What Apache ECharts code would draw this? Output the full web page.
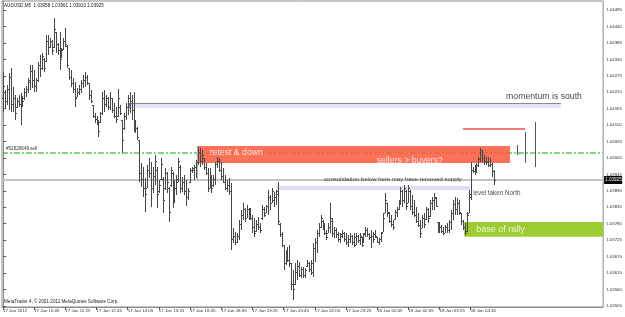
<!DOCTYPE html>
<html><head><meta charset="utf-8">
<script src="https://cdn.jsdelivr.net/npm/echarts@6/dist/echarts.min.js"></script>
<style>html,body{margin:0;padding:0;background:#fff}#c{width:625px;height:317px}</style>
</head><body><div id="c"></div>
<script>
// ---- data (AUDUSD M5, bar index 0 = 17 Jan 08:45) ----
const opens = [
1.04200,1.04220,1.04190,1.04230,1.04270,1.04180,1.04200,1.04170,1.04190,1.04180,
1.04200,1.04200,1.04220,1.04230,1.04255,1.04290,1.04260,1.04240,1.04260,1.04310,
1.04300,1.04330,1.04325,1.04390,1.04370,1.04390,1.04370,1.04420,1.04380,1.04360,
1.04340,1.04365,1.04390,1.04375,1.04300,1.04270,1.04250,1.04230,1.04205,1.04220,
1.04230,1.04250,1.04260,1.04270,1.04250,1.04210,1.04177,1.04140,1.04130,1.04120,
1.04120,1.04150,1.04200,1.04180,1.04200,1.04170,1.04200,1.04160,1.04140,1.04140,
1.04170,1.04127,1.04100,1.04140,1.04170,1.04200,1.04190,1.04160,1.04110,1.04100,
1.04060,1.03950,1.03930,1.03900,1.03900,1.03960,1.03950,1.03900,1.03940,1.03960,
1.03890,1.03930,1.03930,1.03900,1.03950,1.03900,1.03910,1.03950,1.03880,1.03900,
1.03930,1.03970,1.03900,1.03920,1.03890,1.03870,1.03920,1.03960,1.03960,1.03970,
1.03985,1.04020,1.03990,1.04000,1.03970,1.03950,1.03900,1.03940,1.03910,1.03930,
1.03980,1.03990,1.03960,1.03940,1.03920,1.03900,1.03910,1.03890,1.03730,1.03740,
1.03720,1.03740,1.03780,1.03810,1.03830,1.03800,1.03830,1.03810,1.03800,1.03770,
1.03755,1.03780,1.03770,1.03800,1.03830,1.03816,1.03840,1.03870,1.03850,1.03860,
1.03870,1.03890,1.03780,1.03745,1.03709,1.03650,1.03680,1.03660,1.03649,1.03580,
1.03580,1.03620,1.03640,1.03610,1.03630,1.03610,1.03640,1.03650,1.03630,1.03620,
1.03700,1.03720,1.03750,1.03770,1.03790,1.03770,1.03750,1.03750,1.03770,1.03790,
1.03750,1.03760,1.03745,1.03730,1.03745,1.03750,1.03730,1.03720,1.03730,1.03740,
1.03720,1.03710,1.03740,1.03725,1.03736,1.03716,1.03750,1.03760,1.03745,1.03735,
1.03740,1.03745,1.03736,1.03720,1.03730,1.03753,1.03816,1.03849,1.03815,1.03790,
1.03780,1.03795,1.03820,1.03830,1.03850,1.03890,1.03860,1.03890,1.03850,1.03890,
1.03840,1.03820,1.03810,1.03790,1.03775,1.03766,1.03800,1.03795,1.03830,1.03805,
1.03850,1.03860,1.03865,1.03786,1.03760,1.03770,1.03755,1.03750,1.03770,1.03760,
1.03785,1.03815,1.03845,1.03830,1.03850,1.03816,1.03790,1.03770,1.03755,1.03816,
1.03870,1.03960,1.03955,1.03970,1.03975,1.03995,1.04025,1.04000,1.03990,1.03985,
1.03975,1.03980,1.03958];
const highs = [
1.04288,1.04227,1.04244,1.04284,1.04301,1.04237,1.04211,1.04201,1.04211,1.04217,
1.04207,1.04234,1.04241,1.04268,1.04311,1.04311,1.04294,1.04268,1.04321,1.04344,
1.04351,1.04334,1.04411,1.04411,1.04401,1.04395,1.04468,1.04421,1.04385,1.04421,
1.04368,1.04401,1.04435,1.04378,1.04301,1.04294,1.04268,1.04254,1.04234,1.04244,
1.04261,1.04278,1.04288,1.04278,1.04251,1.04227,1.04177,1.04150,1.04140,1.04127,
1.04154,1.04221,1.04227,1.04211,1.04204,1.04221,1.04201,1.04184,1.04171,1.04231,
1.04177,1.04127,1.04150,1.04184,1.04211,1.04221,1.04211,1.04221,1.04127,1.04104,
1.04060,1.03983,1.03970,1.03933,1.03977,1.04000,1.03987,1.03970,1.04010,1.03970,
1.03926,1.04000,1.03936,1.03967,1.03953,1.03903,1.03970,1.03953,1.03926,1.03943,
1.04000,1.03977,1.03936,1.03943,1.03926,1.03900,1.03967,1.03970,1.03977,1.03993,
1.04037,1.04033,1.04027,1.04000,1.03983,1.03967,1.03967,1.03943,1.03943,1.03987,
1.04003,1.04000,1.03987,1.03967,1.03943,1.03926,1.03933,1.03916,1.03766,1.03753,
1.03749,1.03793,1.03826,1.03849,1.03833,1.03843,1.03833,1.03833,1.03809,1.03799,
1.03793,1.03803,1.03783,1.03843,1.03836,1.03843,1.03893,1.03876,1.03900,1.03886,
1.03893,1.03920,1.03783,1.03753,1.03709,1.03692,1.03702,1.03709,1.03649,1.03625,
1.03649,1.03659,1.03652,1.03635,1.03635,1.03632,1.03659,1.03652,1.03659,1.03716,
1.03733,1.03759,1.03783,1.03809,1.03793,1.03783,1.03759,1.03783,1.03849,1.03799,
1.03769,1.03766,1.03753,1.03749,1.03759,1.03753,1.03749,1.03742,1.03749,1.03742,
1.03749,1.03749,1.03742,1.03749,1.03736,1.03749,1.03769,1.03766,1.03749,1.03759,
1.03753,1.03759,1.03736,1.03733,1.03753,1.03816,1.03883,1.03849,1.03819,1.03809,
1.03793,1.03826,1.03836,1.03859,1.03903,1.03893,1.03910,1.03893,1.03910,1.03893,
1.03876,1.03859,1.03836,1.03816,1.03793,1.03809,1.03816,1.03836,1.03833,1.03859,
1.03870,1.03883,1.03870,1.03786,1.03786,1.03776,1.03769,1.03776,1.03783,1.03793,
1.03826,1.03859,1.03870,1.03866,1.03859,1.03816,1.03793,1.03783,1.03819,1.03893,
1.03987,1.03970,1.03977,1.03983,1.04003,1.04033,1.04027,1.04010,1.04003,1.04003,
1.04000,1.03983,1.03961];
const lows = [
1.04154,1.04167,1.04177,1.04161,1.04154,1.04154,1.04127,1.04167,1.04171,1.04110,
1.04171,1.04194,1.04204,1.04217,1.04227,1.04234,1.04221,1.04221,1.04254,1.04271,
1.04294,1.04288,1.04321,1.04344,1.04368,1.04344,1.04368,1.04351,1.04344,1.04294,
1.04334,1.04361,1.04371,1.04301,1.04261,1.04237,1.04217,1.04171,1.04204,1.04211,
1.04217,1.04234,1.04237,1.04244,1.04194,1.04184,1.04134,1.04117,1.04110,1.04070,
1.04117,1.04144,1.04154,1.04171,1.04161,1.04161,1.04150,1.04134,1.04117,1.04137,
1.04144,1.04017,1.04094,1.04127,1.04144,1.04150,1.04127,1.04087,1.04084,1.04060,
1.03920,1.03903,1.03870,1.03819,1.03900,1.03933,1.03836,1.03883,1.03910,1.03833,
1.03883,1.03926,1.03816,1.03893,1.03883,1.03786,1.03903,1.03833,1.03849,1.03876,
1.03920,1.03883,1.03886,1.03876,1.03839,1.03859,1.03916,1.03950,1.03926,1.03933,
1.03977,1.03970,1.03977,1.03960,1.03943,1.03886,1.03900,1.03883,1.03903,1.03910,
1.03967,1.03953,1.03926,1.03916,1.03893,1.03886,1.03876,1.03692,1.03716,1.03709,
1.03716,1.03726,1.03759,1.03793,1.03786,1.03799,1.03793,1.03793,1.03749,1.03736,
1.03753,1.03759,1.03749,1.03793,1.03803,1.03816,1.03809,1.03826,1.03849,1.03836,
1.03843,1.03776,1.03736,1.03702,1.03625,1.03642,1.03652,1.03635,1.03559,1.03525,
1.03575,1.03592,1.03602,1.03599,1.03599,1.03599,1.03635,1.03619,1.03609,1.03602,
1.03652,1.03682,1.03736,1.03766,1.03759,1.03742,1.03726,1.03749,1.03749,1.03736,
1.03733,1.03733,1.03719,1.03716,1.03733,1.03719,1.03709,1.03702,1.03716,1.03709,
1.03702,1.03709,1.03716,1.03709,1.03702,1.03716,1.03736,1.03736,1.03726,1.03699,
1.03716,1.03733,1.03716,1.03709,1.03719,1.03753,1.03816,1.03803,1.03783,1.03769,
1.03759,1.03793,1.03803,1.03826,1.03843,1.03836,1.03849,1.03826,1.03849,1.03826,
1.03809,1.03803,1.03783,1.03769,1.03733,1.03766,1.03766,1.03793,1.03783,1.03803,
1.03826,1.03826,1.03836,1.03749,1.03749,1.03749,1.03742,1.03749,1.03749,1.03749,
1.03759,1.03793,1.03809,1.03809,1.03809,1.03776,1.03759,1.03742,1.03753,1.03816,
1.03859,1.03950,1.03943,1.03950,1.03970,1.03987,1.03987,1.03977,1.03977,1.03970,
1.03970,1.03936,1.03910];
const closes = [
1.04240,1.04190,1.04230,1.04270,1.04180,1.04200,1.04150,1.04190,1.04180,1.04200,
1.04190,1.04220,1.04230,1.04260,1.04290,1.04260,1.04240,1.04260,1.04310,1.04300,
1.04340,1.04300,1.04390,1.04370,1.04390,1.04360,1.04430,1.04380,1.04360,1.04330,
1.04360,1.04390,1.04380,1.04310,1.04270,1.04250,1.04230,1.04200,1.04220,1.04230,
1.04250,1.04260,1.04270,1.04250,1.04210,1.04190,1.04140,1.04130,1.04120,1.04090,
1.04150,1.04200,1.04180,1.04200,1.04170,1.04200,1.04160,1.04140,1.04130,1.04200,
1.04150,1.04060,1.04140,1.04170,1.04200,1.04190,1.04160,1.04110,1.04100,1.04070,
1.03950,1.03930,1.03900,1.03880,1.03960,1.03950,1.03900,1.03940,1.03990,1.03880,
1.03910,1.03980,1.03860,1.03950,1.03920,1.03820,1.03960,1.03880,1.03900,1.03920,
1.03990,1.03900,1.03920,1.03890,1.03870,1.03890,1.03960,1.03965,1.03970,1.03985,
1.04020,1.03990,1.04010,1.03970,1.03950,1.03900,1.03940,1.03900,1.03930,1.03980,
1.03990,1.03960,1.03940,1.03920,1.03900,1.03910,1.03890,1.03730,1.03740,1.03720,
1.03740,1.03780,1.03810,1.03830,1.03800,1.03830,1.03810,1.03800,1.03770,1.03750,
1.03780,1.03770,1.03760,1.03830,1.03810,1.03840,1.03870,1.03850,1.03890,1.03870,
1.03880,1.03790,1.03745,1.03710,1.03650,1.03680,1.03660,1.03650,1.03580,1.03560,
1.03620,1.03640,1.03610,1.03630,1.03610,1.03625,1.03650,1.03630,1.03650,1.03700,
1.03720,1.03750,1.03770,1.03800,1.03770,1.03750,1.03735,1.03770,1.03800,1.03750,
1.03760,1.03745,1.03730,1.03740,1.03750,1.03730,1.03720,1.03730,1.03740,1.03720,
1.03735,1.03740,1.03725,1.03740,1.03710,1.03745,1.03760,1.03745,1.03735,1.03740,
1.03730,1.03740,1.03720,1.03730,1.03750,1.03800,1.03860,1.03820,1.03790,1.03780,
1.03770,1.03820,1.03830,1.03850,1.03890,1.03860,1.03900,1.03840,1.03900,1.03840,
1.03820,1.03810,1.03790,1.03775,1.03750,1.03800,1.03780,1.03830,1.03800,1.03850,
1.03860,1.03870,1.03840,1.03760,1.03770,1.03755,1.03750,1.03770,1.03760,1.03785,
1.03815,1.03845,1.03830,1.03850,1.03820,1.03790,1.03770,1.03750,1.03810,1.03880,
1.03960,1.03955,1.03970,1.03975,1.03995,1.04025,1.04000,1.03990,1.03985,1.03975,
1.03980,1.03958,1.03925];

const timeTickIdx = [0,16,32,48,64,80,96,112,128,144,160,176,192,208,224,240];
const timeTickLabels = ['17 Jan 2012','17 Jan 10:05','17 Jan 11:25','17 Jan 12:45','17 Jan 14:05',
  '17 Jan 15:25','17 Jan 16:45','17 Jan 18:05','17 Jan 19:25','17 Jan 20:45','17 Jan 22:05',
  '17 Jan 23:25','18 Jan 00:45','18 Jan 02:05','18 Jan 03:25','18 Jan 04:45'];
const priceTicks = [1.03505,1.03560,1.03615,1.03670,1.03725,1.03780,1.03835,1.03890,1.03945,1.04000,
  1.04055,1.04110,1.04165,1.04220,1.04275,1.04330,1.04385,1.04440,1.04495];

const headerText = 'AUDUSD,M5  1.03958 1.03961 1.03910 1.03925';
const footerText = 'MetaTrader 4, \u00a9 2001-2011 MetaQuotes Software Corp.';
const bidPrice = 1.03925;
const orderPrice = 1.04017;
const orderLabel = '#52620649 sell';

// zones: [startIdx, endIdx, upperPrice, lowerPrice]
const topZone = [64.8, 286.2, 1.04184, 1.04167];
const sellZone = [99.5, 260.2, 1.04040, 1.03983];
const consZone = [140.3, 239.8, 1.03906, 1.03893];
const baseZone = [236.7, 308, 1.03786, 1.03736];
// thin red level: [startIdx, endIdx, price]
const redLevel = [236.2, 267.9, 1.04097];
// projected vertical lines
const projIdx = [263.8, 267.9, 273.0];
const projHigh = [1.04043, 1.04087, 1.04120];
const projLow = [1.04010, 1.03983, 1.03970];
// gray vertical edge at the start of the sell zone: [idx, upper, lower]
const edgeLine = [99.5, 1.04040, 1.03925];

// notes
const noteTexts = ['momentum is south','retest & down','sellers > buyers?',
  'consolidation below here may have removed supply','level taken North','base of rally'];
const noteIdx = [258.2, 106.1, 191.8, 164.8, 241.3, 242.9];
const notePrice = [1.04206, 1.04018, 1.03990, 1.03927, 1.03881, 1.03761];

// ---- chart ----
const FONT = 'Liberation Sans, Arial, sans-serif';
const X_MIN = -0.5, X_MAX = 308;
const noteStyles = [
  {color:'#111', fontSize:8.7},
  {color:'#fff', fontSize:8.7},
  {color:'#fff', fontSize:8.7},
  {color:'#222', fontSize:6},
  {color:'#222', fontSize:6.3},
  {color:'#fff', fontSize:9}
];
const bars = opens.map((o, i) => [i, o, highs[i], lows[i], closes[i]]);
const proj = projIdx.map((x, i) => [x, projHigh[i], projLow[i], 0]).concat([[edgeLine[0], edgeLine[1], edgeLine[2], 1]]);
const projColors = ['#555', '#b4b4b4'];
// level lines: [x0, x1, price, styleIndex]
const orderLevel = [[X_MIN, X_MAX, orderPrice, 0]];
const levels = [
  [X_MIN, X_MAX, bidPrice, 1],
  [topZone[0], topZone[1], topZone[2], 2],
  [redLevel[0], redLevel[1], redLevel[2], 3]
];
const levelStyles = [
  {stroke:'#84d484', lineWidth:2, lineDash:[6,2,2,2]},
  {stroke:'#c4c4c4', lineWidth:2},
  {stroke:'#8a8a8a', lineWidth:1},
  {stroke:'#f07a7a', lineWidth:2}
];

const chart = echarts.init(document.getElementById('c'), null, {renderer:'canvas'});
const zoneArea = (z, color, opacity) => [{xAxis:z[0], yAxis:z[2], itemStyle:{color:color, opacity:opacity}}, {xAxis:z[1], yAxis:z[3]}];

const levelRender = (params, api) => {
  const a = api.coord([api.value(0), api.value(2)]);
  const b = api.coord([api.value(1), api.value(2)]);
  const k = api.value(3);
  const st = levelStyles[k];
  const y = st.lineWidth === 2 ? Math.round(a[1]) : Math.round(a[1]) + 0.5;
  const children = [{type:'line', shape:{x1:Math.round(a[0]), y1:y, x2:Math.round(b[0]), y2:y},
    style:Object.assign({}, st)}];
  if (k === 2) {
    const bot = api.coord([api.value(0), topZone[3]]);
    children.push({type:'line', shape:{x1:Math.round(a[0])+0.5, y1:y, x2:Math.round(a[0])+0.5, y2:Math.round(bot[1])},
      style:{stroke:'#8a8a8a', lineWidth:1}});
  }
  if (k === 0) {
    children.push({type:'text', x:Math.round(a[0]) + 4, y:y - 1.5,
      style:{text:orderLabel, font:'4.6px '+FONT, fill:'#333', textVerticalAlign:'bottom'}});
  }
  if (k === 1) {
    const cs = params.coordSys;
    children.push({type:'rect', shape:{x:cs.x + cs.width + 1, y:Math.round(a[1]) - 4, width:18, height:8},
      style:{fill:'#000'}});
    children.push({type:'text', x:cs.x + cs.width + 2, y:Math.round(a[1]),
      style:{text:bidPrice.toFixed(5), font:'4.6px '+FONT, fill:'#fff', textVerticalAlign:'middle'}});
  }
  return {type:'group', children:children};
};

chart.setOption({
  animation:false,
  backgroundColor:'#fff',
  textStyle:{fontFamily:FONT},
  grid:{left:1, right:19, top:1, bottom:10, show:true, borderColor:'#8c8c8c', borderWidth:1, backgroundColor:'#fff'},
  xAxis:{type:'value', min:X_MIN, max:X_MAX,
    axisLine:{show:true, lineStyle:{color:'#8c8c8c'}},
    splitLine:{show:false},
    axisTick:{show:true, length:3, customValues:timeTickIdx, lineStyle:{color:'#555'}},
    axisLabel:{show:true, customValues:timeTickIdx, fontSize:4.4, color:'#333', margin:2, align:'left',
      formatter:v => { const k = timeTickIdx.indexOf(Math.round(v)); return k >= 0 ? timeTickLabels[k] : ''; }}
  },
  yAxis:{type:'value', position:'right', min:1.035014, max:1.045251, scale:true,
    axisLine:{show:true, lineStyle:{color:'#8c8c8c'}},
    splitLine:{show:false},
    axisTick:{show:true, length:3, customValues:priceTicks, lineStyle:{color:'#555'}},
    axisLabel:{show:true, customValues:priceTicks, fontSize:4.4, color:'#333', margin:3,
      formatter:v => v.toFixed(5)}
  },
  graphic:[
    {type:'text', left:4, top:3, style:{text:headerText, font:'4.6px '+FONT, fill:'#222'}},
    {type:'text', left:4, top:299, style:{text:footerText, font:'4.6px '+FONT, fill:'#222'}}
  ],
  series:[
    {type:'custom', z:0, silent:true, clip:false, data:orderLevel, encode:{x:[0,1], y:2}, renderItem:levelRender},
    {type:'custom', z:1, silent:true, data:[[X_MIN, bidPrice]], encode:{x:0, y:1},
      renderItem:() => ({type:'group', children:[]}),
      markArea:{silent:true, z:1, data:[
        zoneArea(topZone, '#e2e2f7', 1),
        zoneArea(sellZone, '#fb5a3c', 0.86),
        zoneArea(consZone, '#dedef8', 1),
        zoneArea(baseZone, '#9ccc32', 1)
      ]}
    },
    {type:'custom', z:2, silent:true, clip:false, data:levels, encode:{x:[0,1], y:2}, renderItem:levelRender},
    {type:'custom', z:3, data:bars, encode:{x:0, y:[1,2,3,4]}, clip:true,
      renderItem:(params, api) => {
        const i = api.value(0);
        const h = api.coord([i, api.value(2)]);
        const l = api.coord([i, api.value(3)]);
        const o = api.coord([i, api.value(1)]);
        const c = api.coord([i, api.value(4)]);
        const x = Math.round(h[0]);
        const yh = Math.round(h[1]), yl = Math.round(l[1]);
        const col = '#474747';
        return {type:'group', children:[
          {type:'rect', shape:{x:x, y:yh, width:1, height:Math.max(1, yl - yh)}, style:{fill:col}},
          {type:'rect', shape:{x:x-1, y:Math.round(o[1]), width:1, height:1}, style:{fill:col}},
          {type:'rect', shape:{x:x+1, y:Math.round(c[1]), width:1, height:1}, style:{fill:col}}
        ]};
      }
    },
    {type:'custom', z:2, data:proj, encode:{x:0, y:[1,2]},
      renderItem:(params, api) => {
        const i = api.value(0);
        const h = api.coord([i, api.value(1)]);
        const l = api.coord([i, api.value(2)]);
        const x = Math.round(h[0]);
        return {type:'rect', shape:{x:x, y:Math.round(h[1]), width:1, height:Math.round(l[1]) - Math.round(h[1])},
          style:{fill:projColors[api.value(3)]}};
      }
    },
    {type:'scatter', z:5, symbolSize:0, silent:true,
      data:noteTexts.map((t, k) => ({value:[noteIdx[k], notePrice[k]],
        label:Object.assign({show:true, position:'right', distance:0, formatter:t, fontFamily:FONT}, noteStyles[k])}))
    }
  ]
});
</script></body></html>
